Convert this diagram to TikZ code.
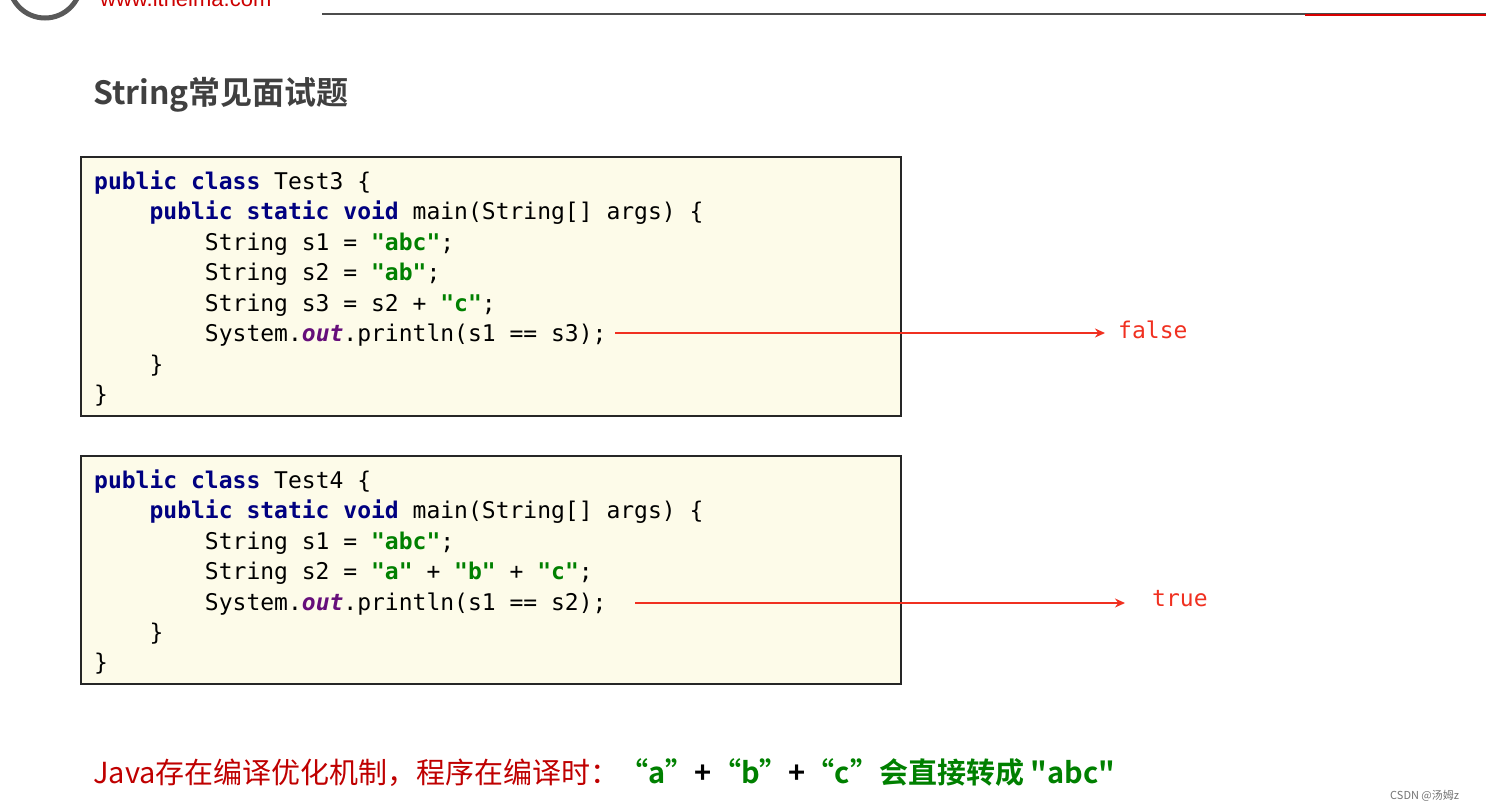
\documentclass[tikz,border=0pt]{standalone}
\usepackage{fontspec}
\usetikzlibrary{arrows.meta}
\setmainfont{Liberation Sans}
\setmonofont{DejaVu Sans Mono}
\newfontfamily\cjk{Noto Sans CJK SC}
\newfontfamily\cjkb{Noto Sans CJK SC Bold}
\definecolor{kw}{HTML}{000080}
\definecolor{strg}{HTML}{008000}
\definecolor{outc}{HTML}{660E7A}
\definecolor{boxfill}{HTML}{FDFBE9}
\definecolor{arr}{HTML}{F03020}
\newcommand{\K}[1]{\textcolor{kw}{\bfseries #1}}
\newcommand{\Sg}[1]{\textcolor{strg}{\bfseries #1}}
\newcommand{\Ot}{\textcolor{outc}{\bfseries\itshape out}}
\begin{document}
\begin{tikzpicture}[x=1pt,y=-1pt,
  code/.style={anchor=base west,inner sep=0pt,font=\ttfamily\fontsize{23}{24}\selectfont},
  codebox/.style={draw=black!85,line width=1.2pt,fill=boxfill},
  res/.style={anchor=base west,inner sep=0pt,font=\ttfamily\fontsize{23}{24}\selectfont,text=arr},
  redarrow/.style={draw=arr,line width=2pt,-{Stealth[length=10pt,width=9pt]}}]
\useasboundingbox (0,0) rectangle (1486,811);
\begin{scope}
\clip (0,0) rectangle (1486,811);
\draw[gray!70!black,line width=5pt] (45,-18) circle (36);
\node[anchor=base west,inner sep=0pt,text=red!80!black,font=\fontsize{22}{24}\selectfont] (url) at (100,6) {www.itheima.com};
\end{scope}
\draw[black!70,line width=1.5pt] (322,14) -- (1486,14);
\draw[red!85!black,line width=2pt] (1305,15) -- (1486,15);
\node[anchor=base west,inner sep=0pt,text=black!75,font=\cjkb\fontsize{32}{34}\selectfont] (title) at (93,104) {String常见面试题};

\draw[codebox] (81,157) rectangle (901,416);
\node[code] (a1) at (94,189) {\K{public class} Test3 \{};
\node[code] (a2) at (94,219) {\phantom{xxxx}\K{public static void} main(String[] args) \{};
\node[code] (a3) at (94,250) {\phantom{xxxxxxxx}String s1 = \Sg{"abc"};};
\node[code] (a4) at (94,280) {\phantom{xxxxxxxx}String s2 = \Sg{"ab"};};
\node[code] (a5) at (94,311) {\phantom{xxxxxxxx}String s3 = s2 + \Sg{"c"};};
\node[code] (a6) at (94,341) {\phantom{xxxxxxxx}System.\Ot.println(s1 == s3);};
\node[code] (a7) at (94,372) {\phantom{xxxx}\}};
\node[code] (a8) at (94,402) {\}};
\node[res] (r1) at (1118,338) {false};
\coordinate (s1) at (615,333);
\coordinate (e1) at (1105,333);
\draw[redarrow] (s1) -- (e1);

\draw[codebox] (81,456) rectangle (901,684);
\node[code] (b1) at (94,488) {\K{public class} Test4 \{};
\node[code] (b2) at (94,518) {\phantom{xxxx}\K{public static void} main(String[] args) \{};
\node[code] (b3) at (94,549) {\phantom{xxxxxxxx}String s1 = \Sg{"abc"};};
\node[code] (b4) at (94,579) {\phantom{xxxxxxxx}String s2 = \Sg{"a"} + \Sg{"b"} + \Sg{"c"};};
\node[code] (b5) at (94,610) {\phantom{xxxxxxxx}System.\Ot.println(s1 == s2);};
\node[code] (b6) at (94,640) {\phantom{xxxx}\}};
\node[code] (b7) at (94,670) {\}};
\node[res] (r2) at (1152,606) {true};
\coordinate (s2) at (635,603);
\coordinate (e2) at (1125,603);
\draw[redarrow] (s2) -- (e2);

\node[anchor=base west,inner sep=0pt,font=\cjk\fontsize{29}{30}\selectfont] (note) at (93,783)
 {\textcolor{red!75!black}{Java存在编译优化机制，程序在编译时：}\textcolor{strg}{\cjkb “a”}{\cjkb +}\textcolor{strg}{\cjkb “b”}{\cjkb +}\textcolor{strg}{\cjkb “c”会直接转成 "abc"}};
\node[anchor=base west,inner sep=0pt,text=black!55,font=\cjk\fontsize{11}{12}\selectfont] (wm) at (1390,799) {CSDN @汤姆z};
\end{tikzpicture}
\end{document}
